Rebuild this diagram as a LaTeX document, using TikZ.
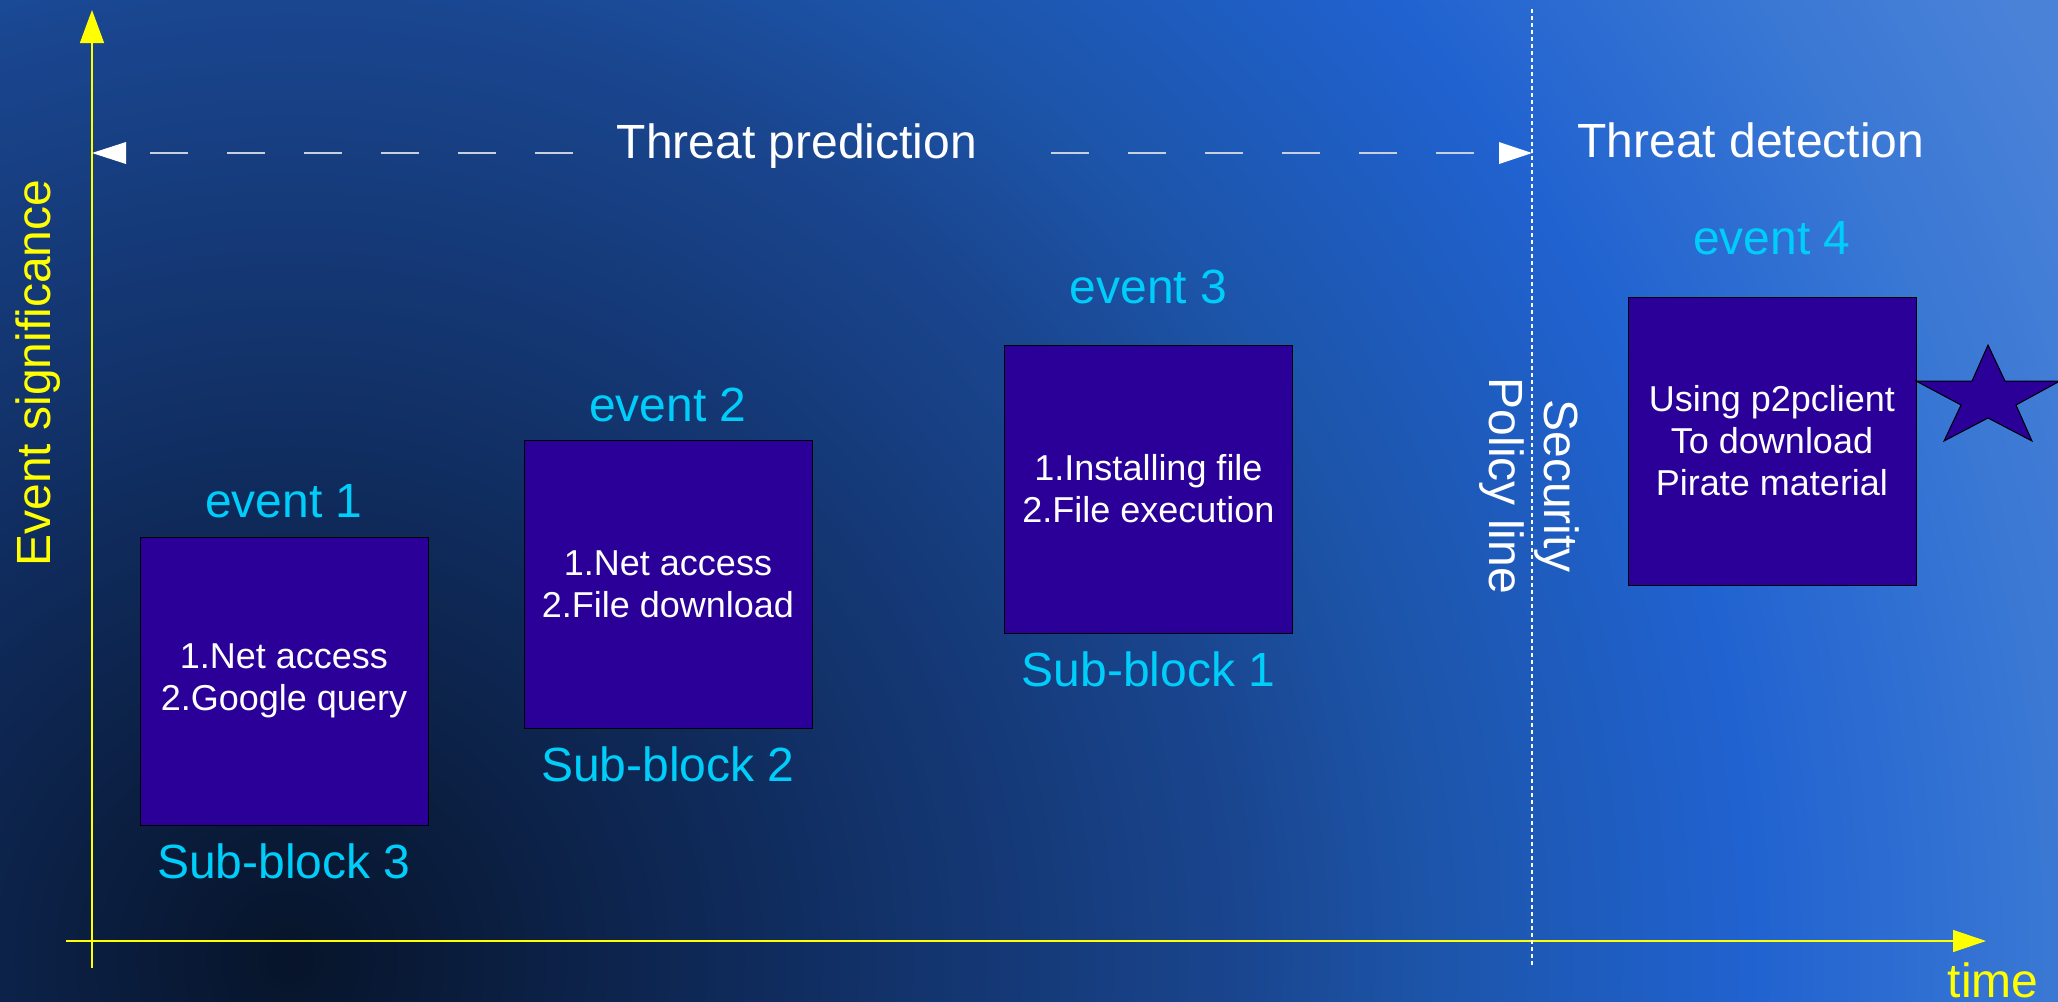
\documentclass[tikz,border=0pt]{standalone}
\usepackage{fontspec}
\setmainfont{Liberation Sans}
\usetikzlibrary{arrows.meta}
\definecolor{boxfill}{RGB}{42,0,153}
\definecolor{lblcyan}{RGB}{0,206,250}
\definecolor{axisyellow}{RGB}{255,255,0}
\definecolor{dashgrey}{RGB}{200,208,224}
\definecolor{bgA}{RGB}{7,20,42}
\definecolor{bgB}{RGB}{15,42,90}
\definecolor{bgC}{RGB}{26,70,144}
\definecolor{bgD}{RGB}{28,84,168}
\definecolor{bgE}{RGB}{32,98,208}
\definecolor{bgF}{RGB}{58,120,212}
\definecolor{bgG}{RGB}{74,130,216}
\pgfdeclareradialshading{bgshade}{\pgfpoint{0bp}{0bp}}{color(0bp)=(bgA); color(5.49bp)=(bgB); color(11.71bp)=(bgC); color(13.78bp)=(bgD); color(17.8bp)=(bgE); color(21.46bp)=(bgF); color(24.02bp)=(bgG); color(25bp)=(bgG); color(50bp)=(bgG)}
\tikzset{
  evbox/.style={draw=black, line width=0.5pt, fill=boxfill, minimum width=144pt, minimum height=144pt,
    inner sep=0pt, text=white, align=center, font=\fontsize{18}{21}\selectfont},
  cyanlbl/.style={text=lblcyan, font=\fontsize{24}{28}\selectfont, anchor=base, inner sep=0pt},
  whitelbl/.style={text=white, font=\fontsize{24}{28}\selectfont, anchor=base, inner sep=0pt},
  yellowlbl/.style={text=axisyellow, font=\fontsize{24}{28}\selectfont, anchor=base, inner sep=0pt},
  axisline/.style={draw=axisyellow, line width=0.6pt},
  greydash/.style={draw=dashgrey, line width=0.8pt, dash pattern=on 19pt off 19.5pt},
  policyline/.style={draw=white, line width=0.6pt, dash pattern=on 2pt off 1.5pt},
  whitetip/.style={fill=white},
}
\begin{document}
\begin{tikzpicture}[x=0.5pt,y=-0.5pt]
\useasboundingbox (0,0) rectangle (2058,1002);
% background
\begin{scope}
  \clip (0,0) rectangle (2058,1002);
  \shade[shading=bgshade] (290,960) circle [radius=2050];
\end{scope}

% axes
\coordinate (yb) at (92,968);
\coordinate (yt) at (92,10);
\coordinate (xb) at (66,941);
\coordinate (xt) at (1986,941);
\draw[axisline, -{Triangle[length=16.5pt,width=12pt]}] (yb) -- (yt);
\draw[axisline, -{Triangle[length=16.5pt,width=11pt]}] (xb) -- (xt);
\node[yellowlbl, rotate=90] (ylab) at (50,373) {Event significance};
\node[yellowlbl] (xlab) at (1993,997) {time};

% security policy line
\coordinate (pt) at (1532,9);
\coordinate (pb) at (1532,968);
\draw[policyline] (pt) -- (pb);
\node[text=white, rotate=-90, align=center, inner sep=0pt,
  font=\fontsize{24}{27.5}\selectfont] (policy) at (1529,486) {Security\\Policy line};

% threat prediction arrow
\coordinate (tipL) at (92,153);
\coordinate (tipR) at (1532,153);
\coordinate (dl1) at (150,153);
\coordinate (dl2) at (573,153);
\coordinate (dr1) at (1051,153);
\coordinate (dr2) at (1474,153);
\draw[greydash] (dl1) -- (dl2);
\draw[greydash] (dr1) -- (dr2);
\fill[whitetip] (tipL) -- ++(34,-11) -- ++(0,22) -- cycle;
\fill[whitetip] (tipR) -- ++(-33,-11) -- ++(0,22) -- cycle;
\node[whitelbl] (pred) at (797,158) {Threat prediction};
\node[whitelbl] (detect) at (1751,157) {Threat detection};

% boxes
\node[evbox] (b1) at (284,681) {1.Net access\\2.Google query};
\node[evbox] (b2) at (668,584.5) {1.Net access\\2.File download};
\node[evbox] (b3) at (1148.5,489) {1.Installing file\\2.File execution};
\node[evbox] (b4) at (1772,441) {Using p2pclient\\To download\\Pirate material};

\node[cyanlbl] (e1) at (284,517) {event 1};
\node[cyanlbl] (e2) at (668,421) {event 2};
\node[cyanlbl] (e3) at (1148.5,303) {event 3};
\node[cyanlbl] (e4) at (1772,254) {event 4};
\node[cyanlbl] (s3) at (284,878) {Sub-block 3};
\node[cyanlbl] (s2) at (668,781) {Sub-block 2};
\node[cyanlbl] (s1) at (1148.5,686) {Sub-block 1};

% star
\filldraw[fill=boxfill, draw=black, line width=0.5pt]
  (1988,345) -- (2005,381) -- (2060,381) -- (2016,405) -- (2032,441) -- (1988,418)
  -- (1944,441) -- (1961,405) -- (1916,381) -- (1972,381) -- cycle;
\end{tikzpicture}
\end{document}
